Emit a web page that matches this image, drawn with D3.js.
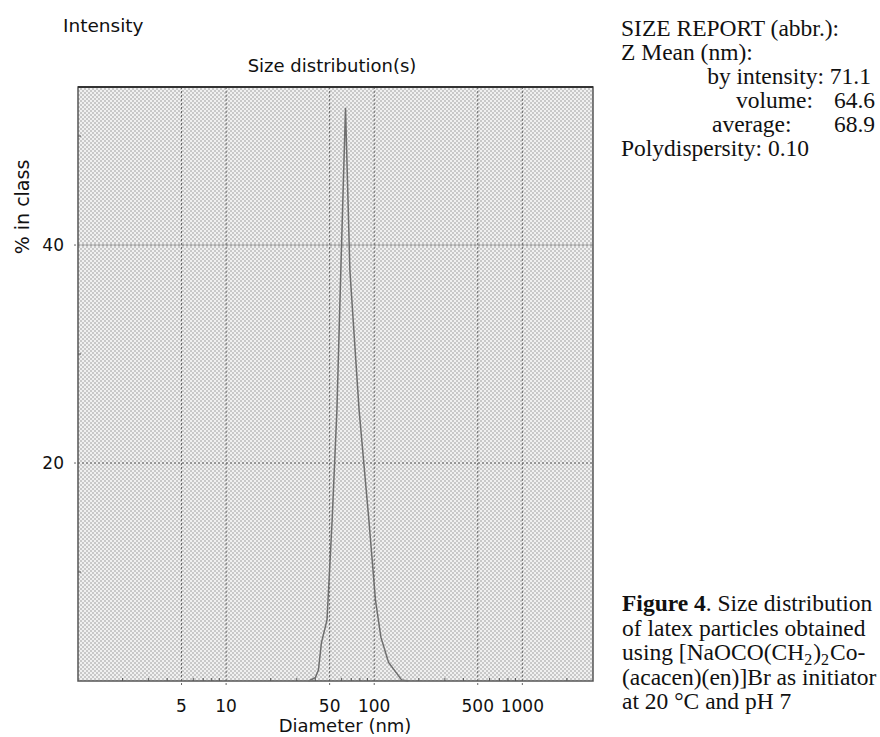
<!DOCTYPE html>
<html>
<head>
<meta charset="utf-8">
<script src="https://cdn.jsdelivr.net/npm/d3@7"></script>
<style>
  body { margin: 0; background: #fff; }
  svg { display: block; }
</style>
</head>
<body>
<div id="chart"></div>
<script>
// Size distribution
const diameters = [36, 40, 42, 44, 48, 52, 56, 59.5, 64, 68.5, 79, 92, 102, 111, 125, 153, 170];
const percents  = [0, 0.3, 1.0, 3.5, 5.6, 14.8, 24.9, 37.7, 52.6, 37.7, 24.9, 14.8, 7.4, 4.0, 1.7, 0.1, 0];

const xTicks = [5, 10, 50, 100, 500, 1000];
const yTicks = [20, 40];
const yMinor = [10, 30, 50];

const reportLines = [
    { text: 'SIZE REPORT (abbr.):', x: 621, anchor: 'start' },
    { text: 'Z Mean (nm):', x: 621, anchor: 'start' },
    { text: 'by intensity: 71.1', x: 871, anchor: 'end' },
    { text: 'volume:', x: 736, anchor: 'start', value: '64.6' },
    { text: 'average:', x: 712, anchor: 'start', value: '68.9' },
    { text: 'Polydispersity: 0.10', x: 621, anchor: 'start' }
];

const captionLines = [
    'of latex particles obtained',
    '(acacen)(en)]Br as initiator',
    'at 20 \u00B0C and pH 7'
];

const width = 880, height = 737;
const margin = { top: 87, right: 287, bottom: 56, left: 78 };

const svg = d3.select('#chart').append('svg')
    .attr('width', width)
    .attr('height', height);

// halftone grey fill of the plot area
const defs = svg.append('defs');
const pat = defs.append('pattern')
    .attr('id', 'dots')
    .attr('width', 4).attr('height', 4)
    .attr('patternUnits', 'userSpaceOnUse');
pat.append('rect').attr('width', 4).attr('height', 4).attr('fill', '#f0f0f0');
pat.append('rect').attr('x', 0).attr('y', 0).attr('width', 2).attr('height', 2).attr('fill', '#c8c8c8');
pat.append('rect').attr('x', 2).attr('y', 2).attr('width', 2).attr('height', 2).attr('fill', '#c8c8c8');

const x = d3.scaleLog()
    .domain([1, 3000])
    .range([margin.left, width - margin.right]);

const y = d3.scaleLinear()
    .domain([0, 54.5])
    .range([height - margin.bottom, margin.top]);

const x0 = x.range()[0], x1 = x.range()[1];
const y0 = y.range()[0], y1 = y.range()[1];

svg.append('rect')
    .attr('x', x0).attr('y', y1)
    .attr('width', x1 - x0).attr('height', y0 - y1)
    .attr('fill', 'url(#dots)');

// dotted grid
svg.append('g').selectAll('line')
    .data(xTicks)
    .enter().append('line')
    .attr('x1', d => x(d)).attr('x2', d => x(d))
    .attr('y1', y1).attr('y2', y0 + 4)
    .attr('stroke', '#666')
    .attr('stroke-width', 1)
    .attr('stroke-dasharray', '2,2');

svg.append('g').selectAll('line')
    .data(yTicks)
    .enter().append('line')
    .attr('x1', x0 - 4).attr('x2', x1)
    .attr('y1', d => y(d)).attr('y2', d => y(d))
    .attr('stroke', '#666')
    .attr('stroke-width', 1)
    .attr('stroke-dasharray', '2,2');

// minor ticks on the log axis
const minor = x.ticks().filter(d => !xTicks.includes(d) && d > 1 && d < 3000);
svg.append('g').selectAll('line')
    .data(minor)
    .enter().append('line')
    .attr('x1', d => x(d)).attr('x2', d => x(d))
    .attr('y1', y0).attr('y2', y0 - 3)
    .attr('stroke', '#555');

svg.append('g').selectAll('line')
    .data(yMinor)
    .enter().append('line')
    .attr('x1', x0).attr('x2', x0 + 3)
    .attr('y1', d => y(d)).attr('y2', d => y(d))
    .attr('stroke', '#555');

// frame
svg.append('rect')
    .attr('x', x0).attr('y', y1)
    .attr('width', x1 - x0).attr('height', y0 - y1)
    .attr('fill', 'none')
    .attr('stroke', '#555')
    .attr('stroke-width', 1.5);
svg.append('line')
    .attr('x1', x0).attr('x2', x1)
    .attr('y1', y1).attr('y2', y1)
    .attr('stroke', '#333')
    .attr('stroke-width', 2);

// distribution curve
const line = d3.line()
    .x((d, i) => x(diameters[i]))
    .y(d => y(d));

svg.append('path')
    .datum(percents)
    .attr('d', line)
    .attr('fill', 'none')
    .attr('stroke', '#6e6e6e')
    .attr('stroke-width', 1.5);

// tick labels
const sans = 'DejaVu Sans, Verdana, sans-serif';

svg.append('g').selectAll('text')
    .data(xTicks)
    .enter().append('text')
    .attr('x', d => x(d))
    .attr('y', y0 + 31)
    .attr('text-anchor', 'middle')
    .attr('font-family', sans)
    .attr('font-size', '17px')
    .attr('fill', '#111')
    .text(d => d);

svg.append('g').selectAll('text')
    .data(yTicks)
    .enter().append('text')
    .attr('x', x0 - 14)
    .attr('y', d => y(d))
    .attr('dy', '0.35em')
    .attr('text-anchor', 'end')
    .attr('font-family', sans)
    .attr('font-size', '17px')
    .attr('fill', '#111')
    .text(d => d);

// titles
svg.append('text')
    .attr('x', 63).attr('y', 32)
    .attr('font-family', sans)
    .attr('font-size', '18.5px')
    .attr('fill', '#111')
    .text('Intensity');

svg.append('text')
    .attr('x', 332).attr('y', 72)
    .attr('text-anchor', 'middle')
    .attr('font-family', sans)
    .attr('font-size', '18px')
    .attr('fill', '#111')
    .text('Size distribution(s)');

svg.append('text')
    .attr('transform', 'translate(29, 207) rotate(-90)')
    .attr('text-anchor', 'middle')
    .attr('font-family', sans)
    .attr('font-size', '19px')
    .attr('fill', '#111')
    .text('% in class');

svg.append('text')
    .attr('x', 345).attr('y', 732)
    .attr('text-anchor', 'middle')
    .attr('font-family', sans)
    .attr('font-size', '18px')
    .attr('fill', '#111')
    .text('Diameter (nm)');

// size report
const serif = 'Liberation Serif, Times New Roman, serif';
const report = svg.append('g')
    .attr('font-family', serif)
    .attr('font-size', '23.5px')
    .attr('fill', '#111');

reportLines.forEach((l, i) => {
    report.append('text')
        .attr('x', l.x)
        .attr('y', 36 + i * 24)
        .attr('text-anchor', l.anchor)
        .text(l.text);
    if (l.value) {
        report.append('text')
            .attr('x', 875)
            .attr('y', 36 + i * 24)
            .attr('text-anchor', 'end')
            .text(l.value);
    }
});

// figure caption
const cap = svg.append('g')
    .attr('font-family', serif)
    .attr('font-size', '23.5px')
    .attr('fill', '#111');

const capX = 622, capY = 611, capStep = 24.5;

const c1 = cap.append('text').attr('x', capX).attr('y', capY);
c1.append('tspan').attr('font-weight', 'bold').text('Figure 4');
c1.append('tspan').text('. Size distribution');

cap.append('text').attr('x', capX).attr('y', capY + capStep).text(captionLines[0]);

// line with subscripts: (CH2)2
const c3 = cap.append('text').attr('x', capX).attr('y', capY + 2 * capStep);
c3.append('tspan').text('using [NaOCO(CH');
c3.append('tspan').attr('font-size', '16px').attr('baseline-shift', '-5').text('2');
c3.append('tspan').attr('dx', 1).text(')');
c3.append('tspan').attr('font-size', '16px').attr('baseline-shift', '-5').text('2');
c3.append('tspan').attr('dx', 1).text('Co-');

cap.append('text').attr('x', capX).attr('y', capY + 3 * capStep).text(captionLines[1]);
cap.append('text').attr('x', capX).attr('y', capY + 4 * capStep).text(captionLines[2]);
</script>
</body>
</html>
